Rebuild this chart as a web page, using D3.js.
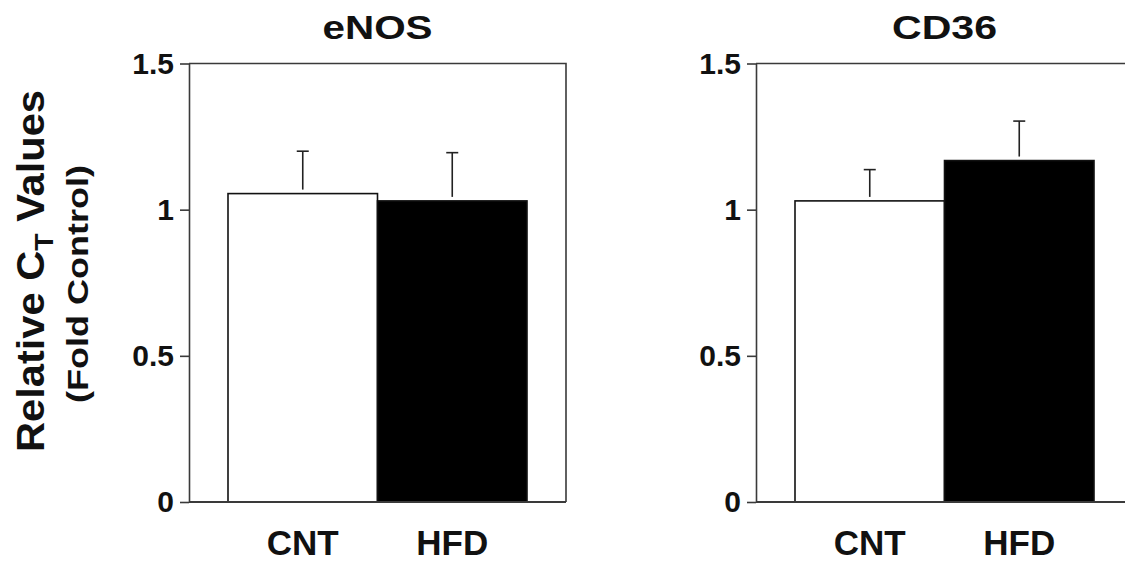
<html>
    <head>
        <style>
            body { margin: 0; background: #fff; }
            text { font-family: "Liberation Sans", Arial, sans-serif; font-weight: bold; fill: #111; }
        </style>
        <script src="https://d3js.org/d3.v7.min.js"></script>
    </head>
    <body>
        <svg width="1125" height="562"></svg>
        <script>
            // data
            const categories = ['CNT', 'HFD'];
            const genes = ['eNOS', 'CD36'];
            const enosMean = [1.055, 1.030];
            const enosErr = [0.145, 0.165];
            const cd36Mean = [1.030, 1.168];
            const cd36Err = [0.107, 0.135];
            const yTicks = [0, 0.5, 1, 1.5];

            const means = [enosMean, cd36Mean];
            const errs = [enosErr, cd36Err];

            const svg = d3.select('svg');
            const frameColor = '#3a3a3a';

            // shared y scale
            const y = d3.scaleLinear().domain([0, 1.5]).range([502, 63.5]);

            const panelLeft = [189, 756];
            const panelWidth = 377;

            genes.forEach((gene, gi) => {
                const x0 = panelLeft[gi];
                const g = svg.append('g');

                const x = d3.scaleBand()
                    .domain(categories)
                    .range([x0 + 39, x0 + panelWidth - 39])
                    .paddingInner(0);

                const rows = categories.map((c, i) => ({ cat: c, mean: means[gi][i], err: errs[gi][i] }));

                // bars
                g.selectAll('rect.bar')
                    .data(rows)
                    .join('rect')
                    .attr('class', 'bar')
                    .attr('x', d => x(d.cat))
                    .attr('y', d => y(d.mean))
                    .attr('width', x.bandwidth())
                    .attr('height', d => y(0) - y(d.mean))
                    .style('fill', (d, i) => i === 0 ? '#fff' : '#000')
                    .style('stroke', '#111')
                    .style('stroke-width', 1.6);

                // error bars (upper only)
                const eb = g.selectAll('g.err')
                    .data(rows)
                    .join('g')
                    .attr('class', 'err')
                    .attr('transform', d => `translate(${x(d.cat) + x.bandwidth() / 2},0)`);
                eb.append('line')
                    .attr('y1', d => y(d.mean) - 4)
                    .attr('y2', d => y(d.mean + d.err))
                    .style('stroke', '#222').style('stroke-width', 1.6);
                eb.append('line')
                    .attr('x1', -6).attr('x2', 6)
                    .attr('y1', d => y(d.mean + d.err))
                    .attr('y2', d => y(d.mean + d.err))
                    .style('stroke', '#222').style('stroke-width', 1.6);

                // frame: top and right
                g.append('path')
                    .attr('d', `M${x0},${y(1.5)}H${x0 + panelWidth}V${y(0)}`)
                    .style('fill', 'none')
                    .style('stroke', frameColor)
                    .style('stroke-width', 1.6);

                // bottom line
                g.append('line')
                    .attr('x1', x0).attr('x2', x0 + panelWidth)
                    .attr('y1', y(0)).attr('y2', y(0))
                    .style('stroke', frameColor).style('stroke-width', 1.8);

                // y axis
                const ax = g.append('g')
                    .attr('transform', `translate(${x0},0)`)
                    .call(d3.axisLeft(y).tickValues(yTicks).tickFormat(d => String(d))
                        .tickSize(9).tickSizeOuter(0).tickPadding(6));
                ax.select('.domain').style('stroke', frameColor).style('stroke-width', 1.6);
                ax.selectAll('.tick line').style('stroke', frameColor).style('stroke-width', 1.6);
                ax.selectAll('.tick text')
                    .style('font-size', '30px')
                    .style('font-family', '"Liberation Sans", Arial, sans-serif')
                    .style('font-weight', 'bold')
                    .attr('fill', '#111')
                    .attr('dy', '0.33em');

                // category labels
                g.selectAll('text.cat')
                    .data(categories)
                    .join('text')
                    .attr('class', 'cat')
                    .attr('x', d => x(d) + x.bandwidth() / 2)
                    .attr('y', 554.5)
                    .attr('text-anchor', 'middle')
                    .style('font-size', '35px')
                    .text(d => d);

                // panel title
                g.append('text')
                    .attr('x', x0 + panelWidth / 2)
                    .attr('y', 38.5)
                    .attr('text-anchor', 'middle')
                    .style('font-size', '32.5px')
                    .attr('textLength', gi === 0 ? 110 : 105)
                    .attr('lengthAdjust', 'spacingAndGlyphs')
                    .text(gene);
            });

            // y axis title
            const yt = svg.append('g').attr('transform', 'translate(43.5,271) rotate(-90)');
            const t1 = yt.append('text')
                .attr('text-anchor', 'middle')
                .style('font-size', '38px')
                .attr('textLength', 362)
                .attr('lengthAdjust', 'spacingAndGlyphs');
            t1.append('tspan').text('Relative C');
            t1.append('tspan').attr('dy', 9).style('font-size', '26px').text('T');
            t1.append('tspan').attr('dy', -9).text(' Values');

            svg.append('text')
                .attr('transform', 'translate(88,284) rotate(-90)')
                .attr('text-anchor', 'middle')
                .style('font-size', '30px')
                .attr('textLength', 238)
                .attr('lengthAdjust', 'spacingAndGlyphs')
                .text('(Fold Control)');
        </script>
    </body>
</html>
